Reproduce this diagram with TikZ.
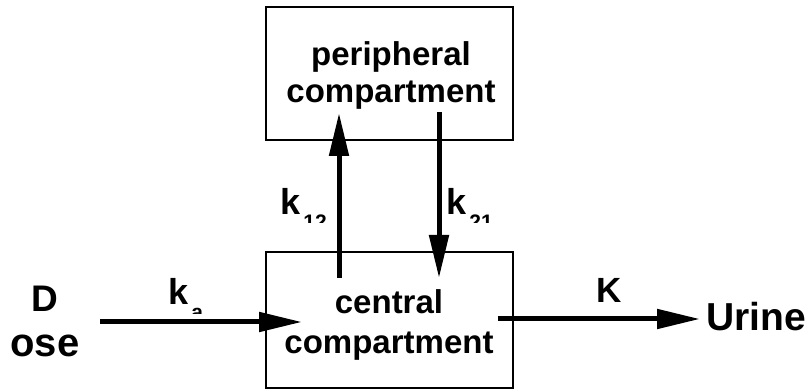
\documentclass[tikz,border=0pt]{standalone}
\usepackage{fontspec}
\setmainfont{Liberation Sans}
\usetikzlibrary{arrows.meta}
\tikzset{
  box/.style={draw, line width=1pt, inner sep=0pt},
  lbl/.style={inner sep=0pt, font=\bfseries},
  flow/.style={line width=2.5pt, -{Triangle[length=21.5pt,width=9.5pt]}},
}
\newcommand{\fs}[2]{\fontsize{#1}{#2}\selectfont}
\newcommand{\sbs}[1]{\kern1.5pt\raisebox{-7.4pt}{\fs{10.5}{12}#1}}
\begin{document}
\begin{tikzpicture}[x=0.5pt,y=-0.5pt]
\useasboundingbox (0,0) rectangle (810,389);
% boxes
\node[box, minimum width=123.5pt, minimum height=66.5pt] (periph) at (389.5,73.5) {};
\node[box, minimum width=123.5pt, minimum height=68pt] (central) at (389.5,320) {};
% box texts
\node[lbl, align=center, font=\bfseries\fs{16.5}{18.5}] (periphtxt) at (391,75) {peripheral\\compartment};
\node[lbl, align=center, font=\bfseries\fs{16.5}{20}] (centraltxt) at (389,325) {central\\compartment};
% outer labels
\node[lbl, anchor=base, font=\bfseries\fs{18.5}{20}] (D) at (45,312) {D};
\node[lbl, anchor=base, font=\bfseries\fs{20}{22}] (ose) at (45,357) {ose};
\node[lbl, anchor=base west, font=\bfseries\fs{19.5}{20}] (urine) at (706,331) {Urine};
\node[lbl, anchor=base west, font=\bfseries\fs{17.5}{20}] (K) at (596,303) {K};
% rate constants with clipped subscripts
\begin{scope}
  \clip (150,260) rectangle (230,314);
  \node[lbl, anchor=base west, font=\bfseries\fs{18}{20}] (ka) at (168,305) {k\sbs{a}};
\end{scope}
\begin{scope}
  \clip (270,170) rectangle (332,223);
  \node[lbl, anchor=base west, font=\bfseries\fs{18}{20}] (k12) at (280,215) {k\sbs{12}};
\end{scope}
\begin{scope}
  \clip (444,170) rectangle (510,223);
  \node[lbl, anchor=base west, font=\bfseries\fs{18}{20}] (k21) at (446,215) {k\sbs{21}};
\end{scope}
% connector end points
\coordinate (doseA) at (100,322);
\coordinate (doseB) at (302,322);
\coordinate (upA) at (339,278);
\coordinate (upB) at (339,113);
\coordinate (dnA) at (439,112);
\coordinate (dnB) at (439,278);
\coordinate (elA) at (498,319);
\coordinate (elB) at (700,319);
% arrows
\draw[flow] (doseA) -- (doseB);
\draw[flow] (upA) -- (upB);
\draw[flow] (dnA) -- (dnB);
\draw[flow] (elA) -- (elB);
\end{tikzpicture}
\end{document}
